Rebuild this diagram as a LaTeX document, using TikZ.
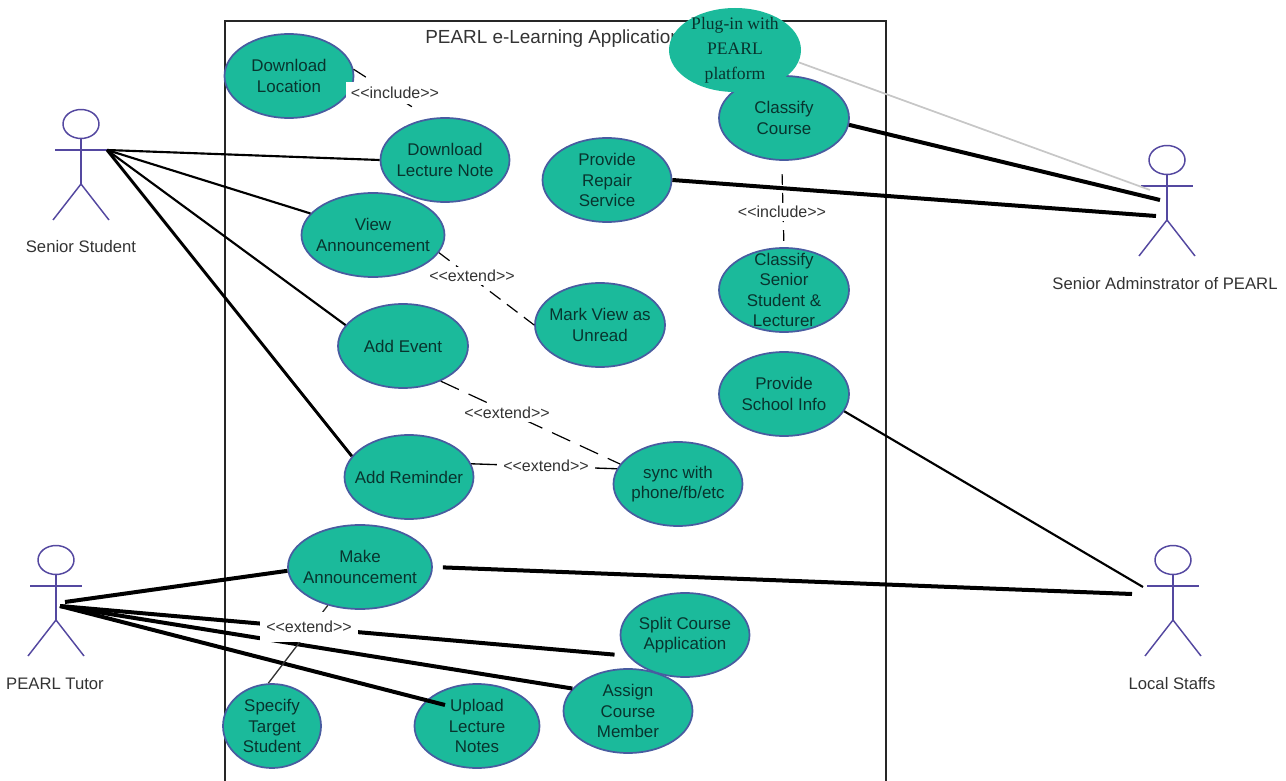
\documentclass[tikz,border=0pt]{standalone}
\usepackage{xcolor}
\usepackage{fontspec}
\setmainfont{Liberation Sans}
\newfontfamily\pluginfont{Liberation Serif}
\usetikzlibrary{shapes.geometric}

\definecolor{casefill}{RGB}{27,186,155}
\definecolor{caseline}{RGB}{72,92,160}
\definecolor{casetext}{RGB}{8,52,46}
\definecolor{actorline}{RGB}{84,72,160}

\tikzset{
  usecase/.style={ellipse,draw=caseline,line width=1.3pt,fill=casefill,text=casetext,inner sep=-16pt,align=center,minimum width=#1*0.75pt,minimum height=63pt,font=\fontsize{12.7}{15.4}\selectfont},
  actor/.style={color=actorline,line width=1.1pt},
  actorname/.style={inner sep=0.75pt,text=black!80,font=\fontsize{12.5}{15}\selectfont},
  stereo/.style={fill=white,inner xsep=1pt,inner ysep=2pt,text=black!80,font=\fontsize{12}{13}\selectfont},
  heavy/.style={line width=3pt},
  medium/.style={line width=1.6pt},
  depends/.style={line width=0.9pt,dash pattern=on 15pt off 8pt},
}
\newcommand{\stereotype}[1]{{<}{<}#1{>}{>}}

\begin{document}
\begin{tikzpicture}[x=0.75pt,y=0.75pt,yscale=-1,xscale=1]
\useasboundingbox (0,0) rectangle (1286,781);

%Shape: system frame
\draw [line width=1.5pt,black!85] (225,781) -- (225,21) -- (886,21) -- (886,781) ;
% Text Node
\node [anchor=west,inner sep=0.75pt,text=black!80,font=\fontsize{14.2}{16}\selectfont] (title) at (424,39) {PEARL e-Learning Application};

%Shape: actors
\foreach \hx/\hy in {81/124,1167/160,1173/560,56/560}{
  \draw [actor] (\hx,\hy) ellipse (18 and 14.5) ;
  \draw [actor] (\hx,\hy+14.5) -- (\hx,\hy+60) ;
  \draw [actor] (\hx-26,\hy+26) -- (\hx+26,\hy+26) ;
  \draw [actor] (\hx-28,\hy+96) -- (\hx,\hy+60) -- (\hx+28,\hy+96) ;
}
\coordinate (student) at (107,150);
\coordinate (adminhigh) at (1160,200);
\coordinate (adminmid) at (1156,216);
\coordinate (admingrey) at (1150,190);
\coordinate (staffhigh) at (1132,594);
\coordinate (stafflow) at (1143,587);
\coordinate (tutorhigh) at (65,602);
\coordinate (tutor) at (60,606);
\coordinate (uploadend) at (445,705);

% Text Node
\node [actorname] (studentname) at (81,247) {Senior Student};
\node [actorname] (adminname) at (1165,284) {Senior Adminstrator of PEARL};
\node [actorname] (staffname) at (1172,684) {Local Staffs};
\node [actorname] (tutorname) at (55,684) {PEARL Tutor};

%Shape: use cases
\node [usecase=129] (dlocation) at (289,76) {Download\\Location};
\node [usecase=129] (dnote) at (445,160) {Download\\Lecture Note};
\node [usecase=143] (view) at (373,235) {View\\Announcement};
\node [usecase=129] (repair) at (607,180) {Provide\\Repair\\Service};
\node [usecase=130] (course) at (784,118) {Classify\\Course};
\node [usecase=132,draw=none,font=\pluginfont\fontsize{13.2}{18.6}\selectfont] (plugin) at (735,50) {Plug-in with\\PEARL\\platform};
\node [usecase=130] (csenior) at (784,290) {Classify\\Senior\\Student \&\\Lecturer};
\node [usecase=130] (school) at (784,394) {Provide\\School Info};
\node [usecase=130] (unread) at (600,325) {Mark View as\\Unread};
\node [usecase=130] (event) at (403,346) {Add Event};
\node [usecase=129] (reminder) at (409,477) {Add Reminder};
\node [usecase=129] (sync) at (678,484) {sync with\\phone/fb/etc};
\node [usecase=144] (make) at (360,567) {Make\\Announcement};
\node [usecase=129] (split) at (685,635) {Split Course\\Application};
\node [usecase=129] (assign) at (628,711) {Assign\\Course\\Member};
\node [usecase=125] (upload) at (477,726) {Upload\\Lecture\\Notes};
\node [usecase=98] (specify) at (272,726) {Specify\\Target\\Student};

%Straight Lines: senior student
\draw [medium] (student) -- (dnote.west) ;
\draw [medium] (student) -- (view.161) ;
\draw [medium] (student) -- (event.160) ;
\draw [line width=2.2pt] (student) -- (reminder.160) ;
%Straight Lines: administrator
\draw [line width=1.3pt,black!22] (plugin.-11) -- (admingrey) ;
\draw [heavy] (course.-6) -- (adminhigh) ;
\draw [heavy] (repair.east) -- (adminmid) ;
%Straight Lines: local staffs
\draw [medium] (school.-16) -- (stafflow) ;
\draw [heavy,shorten <=7.5pt] (make.east) -- (staffhigh) ;
%Straight Lines: tutor
\draw [heavy] (tutorhigh) -- (make.183) ;
\draw [heavy,shorten >=10pt] (tutor) -- (split.200) ;
\draw [heavy] (tutor) -- (assign.158) ;
\draw [heavy] (tutor) -- (uploadend) ;
%Straight Lines: dependencies
\draw [depends,dash pattern=on 11pt off 30pt] (dlocation.6) -- (dnote.110) ;
\draw [depends,dash pattern=on 10pt off 6pt] (view.-15) -- (unread.west) ;
\draw [depends] (event.-43) -- (sync.161) ;
\draw [line width=1pt] (reminder.12) -- (sync.166) ;
\draw [depends,dash pattern=on 8pt off 6pt,shorten <=10pt] (course.-93) -- (csenior.north) ;
\draw [line width=1pt,black!80] (make.-130) -- (specify.95) ;

% Text Node
\node [stereo,minimum width=74pt,minimum height=16pt] (incloc) at (395,93) {\stereotype{include}};
\node [stereo] (extview) at (472,276) {\stereotype{extend}};
\node [stereo] (extevent) at (507,413) {\stereotype{extend}};
\node [stereo,minimum width=73pt] (extsync) at (546,466) {\stereotype{extend}};
\node [stereo] (inccourse) at (782,212) {\stereotype{include}};
\node [stereo,minimum width=73pt,minimum height=22pt] (extmake) at (309,627) {\stereotype{extend}};

\end{tikzpicture}
\end{document}
